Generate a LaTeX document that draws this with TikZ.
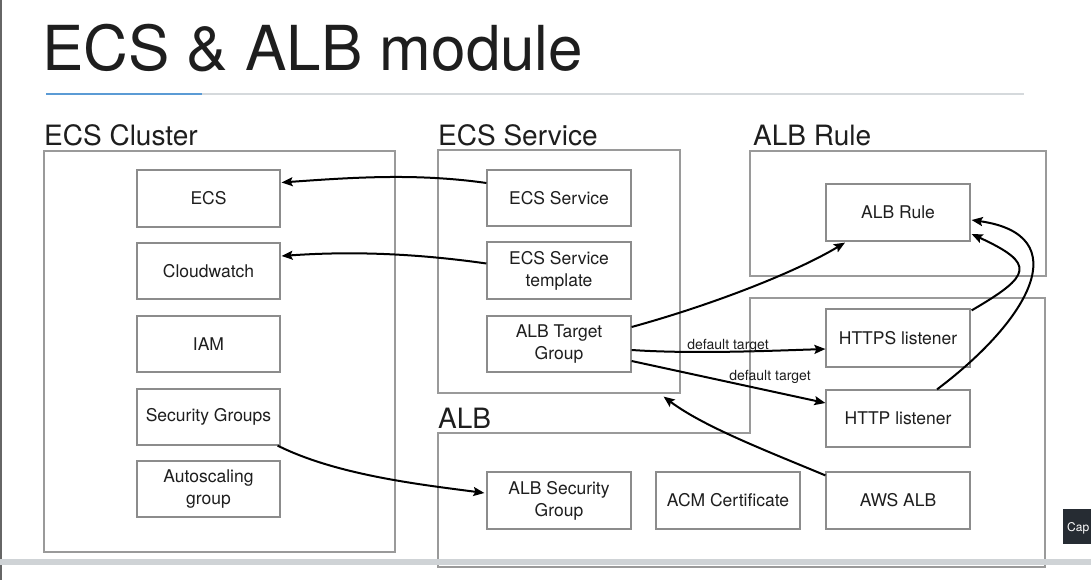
\documentclass[tikz,border=0pt]{standalone}
\usepackage{fontspec}
\setmainfont{TeX Gyre Heros}
\usetikzlibrary{arrows.meta}
\definecolor{boxgray}{HTML}{8C8C8C}
\definecolor{contgray}{HTML}{9A9A9A}
\definecolor{txt}{HTML}{1E1E1E}
\definecolor{rulegray}{HTML}{D5D9DC}
\definecolor{ruleblue}{HTML}{5B9BD5}
\definecolor{bargray}{HTML}{CFD3D6}
\definecolor{btndark}{HTML}{262C33}
\begin{document}
\begin{tikzpicture}[x=1pt,y=-1pt,
  box/.style={draw=boxgray, line width=1.2pt, minimum width=144pt, minimum height=57pt, inner sep=0pt, align=center, font=\fontsize{17.5}{22}\selectfont, text=txt},
  cont/.style={draw=contgray, line width=1.2pt, inner sep=0pt},
  sec/.style={anchor=base west, inner sep=0pt, font=\fontsize{28}{30}\selectfont, text=txt},
  arr/.style={line width=2pt, -{Stealth[length=11pt,width=9pt,inset=2pt]}},
  lbl/.style={anchor=base, inner sep=0pt, font=\fontsize{14}{16}\selectfont, text=txt}
]
\useasboundingbox (0,0) rectangle (1091,580);
\fill[white] (0,0) rectangle (1091,580);

% title and rule
\node[anchor=base west, inner sep=0pt, font=\fontsize{62}{64}\selectfont, text=txt] (title) at (42,71) {ECS \& ALB module};
\draw[rulegray, line width=1.5pt] (46,94) -- (1024,94);
\draw[ruleblue, line width=1.5pt] (46,94) -- (202,94);

% section labels
\node[sec] (lcluster) at (44,146) {ECS Cluster};
\node[sec] (lservice) at (438,146) {ECS Service};
\node[sec] (lrule) at (753,146) {ALB Rule};
\node[sec] (lalb) at (438,428) {ALB};

% containers
\node[cont, minimum width=351pt, minimum height=401pt] (clustercont) at (219.5,351.5) {};
\node[cont, minimum width=242pt, minimum height=243pt] (svccont) at (559,271.5) {};
\node[cont, minimum width=296pt, minimum height=125pt] (rulecont) at (898,213.5) {};
\draw[contgray, line width=1.2pt] (438,433) -- (750,433) -- (750,298) -- (1045,298) -- (1045,567) -- (438,567) -- cycle;

% ECS cluster boxes
\node[box, minimum width=143pt] (ecs) at (208.5,198.5) {ECS};
\node[box, minimum width=143pt, minimum height=56pt] (cw) at (208.5,271) {Cloudwatch};
\node[box, minimum width=143pt, minimum height=56pt] (iam) at (208.5,344) {IAM};
\node[box, minimum width=143pt, minimum height=56pt] (sg) at (208.5,417) {Security Groups};
\node[box, minimum width=143pt, minimum height=56pt] (asg) at (208.5,489) {Autoscaling\\group};

% ECS service boxes
\node[box, minimum height=56pt] (ecssvc) at (559,198) {ECS Service};
\node[box] (tmpl) at (559,270.5) {ECS Service\\template};
\node[box, minimum height=56pt] (tg) at (559,344) {ALB Target\\Group};

% ALB rule
\node[box] (rulebox) at (898,212.5) {ALB Rule};

% ALB
\node[box, minimum height=58pt] (https) at (898,338) {HTTPS listener};
\node[box] (http) at (898,418.5) {HTTP listener};
\node[box] (awsalb) at (898,500.5) {AWS ALB};
\node[box] (acm) at (728,500.5) {ACM Certificate};
\node[box] (albsg) at (559,500.5) {ALB Security\\Group};

% arrows
\draw[arr] ([yshift=15pt]ecssvc.west) .. controls +(-70,-10) and +(70,-5) .. ([xshift=1pt,yshift=16pt]ecs.east);
\draw[arr] ([yshift=7pt]tmpl.west) .. controls +(-70,-10) and +(70,-5) .. ([xshift=1pt,yshift=15pt]cw.east);
\draw[arr] ([yshift=17pt]tg.east) .. controls +(80,-22) and +(-50,30) .. ([xshift=-53pt,yshift=-1pt]rulebox.south);
\draw[arr] ([yshift=-6pt]tg.east) .. controls +(60,4) and +(-60,2) .. ([yshift=-11pt]https.west);
\draw[arr] ([yshift=-17pt]tg.east) -- ([yshift=15.5pt]http.west);
\draw[arr] ([yshift=-4pt]awsalb.north west) .. controls +(-60,-25) and +(40,30) .. ([xshift=-17pt,yshift=-3pt]svccont.south east);
\draw[arr] ([xshift=-3pt]sg.south east) .. controls +(60,30) and +(-60,-8) .. ([xshift=-2pt,yshift=7.5pt]albsg.west);
\draw[arr] ([xshift=1pt,yshift=-2pt]https.north east) .. controls +(60,-35) and +(65,30) .. ([xshift=1pt,yshift=-21.5pt]rulebox.east);
\draw[arr] ([xshift=39pt]http.north) .. controls +(93,-70) and +(105,15) .. ([xshift=1pt,yshift=-7.5pt]rulebox.east);

% labels
\node[lbl] (dt1) at (728,349) {default target};
\node[lbl] (dt2) at (770,380) {default target};

% screen artefacts
\draw[gray!80!black, line width=1.5pt] (1,0) -- (1,580);
\fill[bargray] (0,559) rectangle (1091,565);
\fill[btndark] (1063,509) rectangle (1091,544);
\node[anchor=base west, inner sep=0pt, text=white, font=\fontsize{12}{14}\selectfont] (cap) at (1067,531) {Cap};
\end{tikzpicture}
\end{document}
